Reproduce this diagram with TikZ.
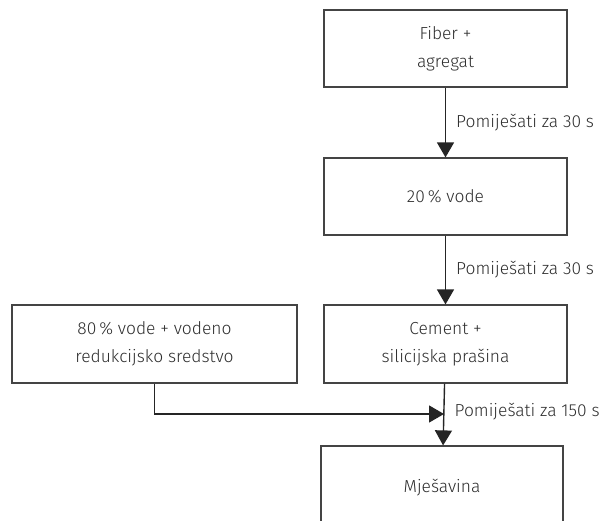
\documentclass[tikz,border=0pt]{standalone}
\usepackage{fontspec}
\setmainfont{Fira Sans Light}
\usetikzlibrary{arrows.meta}
\definecolor{ink}{HTML}{2E2E2E}
\definecolor{boxline}{HTML}{444444}
\begin{document}
\begin{tikzpicture}[x=1pt,y=-1pt,font=\fontsize{17.4pt}{28pt}\selectfont,
 box/.style={draw=boxline,line width=1.2pt,text=ink,align=center,inner sep=0pt,minimum width=243pt,minimum height=77pt},
 flow/.style={draw=ink!80!black,line width=1.4pt,-{Triangle[width=17pt,length=15pt]}},
 lbl/.style={right,text=ink,inner sep=0pt,xshift=10pt}]
 \clip (0,0) rectangle (605,521);
 \fill[white] (0,0) rectangle (605,521);
 \node[box] (fiber) at (445.5,48.5) {Fiber +\\agregat};
 \node[box] (voda) at (445.5,196.5) {20\,\% vode};
 \node[box,minimum height=78pt] (cement) at (445.5,344) {Cement +\\silicijska prašina};
 \node[box,minimum width=285pt,minimum height=78pt] (reduk) at (154.5,344) {80\,\% vode + vodeno\\redukcijsko sredstvo};
 \node[box,minimum width=242pt,minimum height=90pt] (mjes) at (442,491) {};
 \node[text=ink] (mjestxt) at (442,488) {Mješavina};
 \coordinate (spoj) at (444,414);
 \draw[flow] (fiber) -- node[lbl]{Pomiješati za 30 s} (voda);
 \draw[flow] (voda) -- node[lbl]{Pomiješati za 30 s} (cement);
 \draw[flow] (cement) -- node[lbl,pos=0.45]{Pomiješati za 150 s} (mjes);
 \draw[flow] (reduk.south) |- (spoj);
\end{tikzpicture}
\end{document}
